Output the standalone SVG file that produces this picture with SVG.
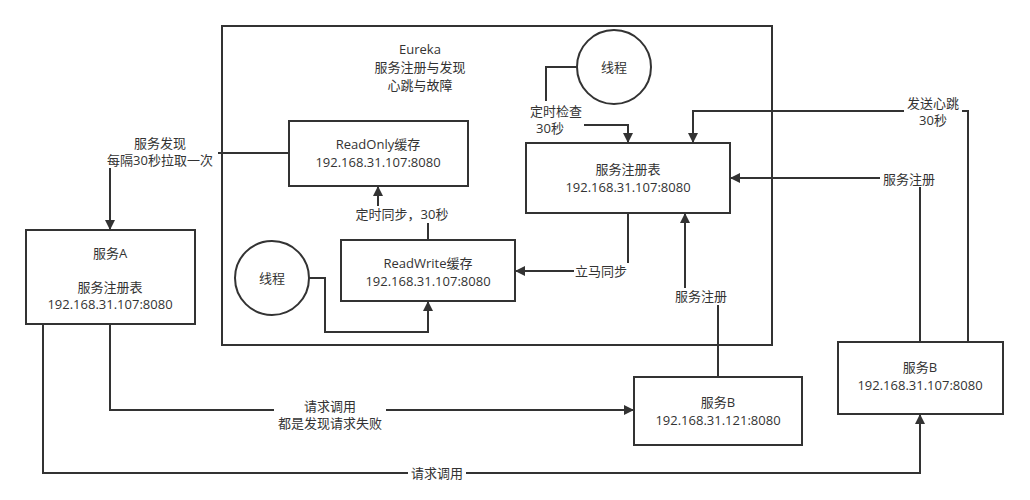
<svg xmlns="http://www.w3.org/2000/svg" width="1030" height="500" viewBox="0 0 1030 500">
<defs>
<marker id="ar" viewBox="0 0 10 10" refX="10" refY="5" markerWidth="10" markerHeight="10" markerUnits="userSpaceOnUse" orient="auto"><path d="M0,0 L10,5 L0,10 z" fill="#333"/></marker>
<style>
text{font-family:"Open Sans","Noto Sans CJK SC",sans-serif;font-size:13px;fill:#333;text-anchor:middle}
.b{fill:#fff;stroke:#333;stroke-width:2}
.c{fill:none;stroke:#333;stroke-width:2}
.lb{fill:#fff;stroke:none}
</style>
</defs>
<rect width="1030" height="500" fill="#fff"/>
<g id="eureka"><rect class="b" x="222" y="26" width="550" height="319"/>
<text x="420" y="54">Eureka</text><text x="420" y="72">服务注册与发现</text><text x="420" y="90">心跳与故障</text></g>
<g id="readonly"><rect class="b" x="289" y="121" width="179" height="65"/><text x="378" y="149">ReadOnly缓存</text><text x="378" y="167">192.168.31.107:8080</text></g>
<g id="readwrite"><rect class="b" x="341" y="240" width="174" height="61"/><text x="428" y="268">ReadWrite缓存</text><text x="428" y="286">192.168.31.107:8080</text></g>
<g id="registry"><rect class="b" x="526" y="143" width="204" height="70"/><text x="628" y="174">服务注册表</text><text x="628" y="192">192.168.31.107:8080</text></g>
<g id="thread1"><circle class="b" cx="614" cy="67" r="37"/><text x="614" y="72">线程</text></g>
<g id="thread2"><circle class="b" cx="272" cy="278" r="37"/><text x="272" y="283">线程</text></g>
<g id="serviceA"><rect class="b" x="26" y="230" width="169" height="94"/><text x="110" y="258">服务A</text><text x="110" y="292">服务注册表</text><text x="110" y="309">192.168.31.107:8080</text></g>
<g id="serviceB1"><rect class="b" x="634" y="377" width="168" height="68"/><text x="718" y="407">服务B</text><text x="718" y="425">192.168.31.121:8080</text></g>
<g id="serviceB2"><rect class="b" x="838" y="342" width="165" height="72"/><text x="920" y="372">服务B</text><text x="920" y="390">192.168.31.107:8080</text></g>
<g id="connectors">
<path class="c" d="M289,153 L110,153 L110,230" marker-end="url(#ar)"/>
<path class="c" d="M428,240 L428,215 L378,215 L378,186" marker-end="url(#ar)"/>
<path class="c" d="M309,278 L325,278 L325,332 L428,332 L428,301" marker-end="url(#ar)"/>
<path class="c" d="M577,67 L546,67 L546,125 L628,125 L628,143" marker-end="url(#ar)"/>
<path class="c" d="M628,213 L628,271 L515,271" marker-end="url(#ar)"/>
<path class="c" d="M718,377 L718,296 L685,296 L685,213" marker-end="url(#ar)"/>
<path class="c" d="M920,342 L920,178 L730,178" marker-end="url(#ar)"/>
<path class="c" d="M968,342 L968,111 L693,111 L693,143" marker-end="url(#ar)"/>
<path class="c" d="M110,324 L110,410 L634,410" marker-end="url(#ar)"/>
<path class="c" d="M43,324 L43,473 L920,473 L920,414" marker-end="url(#ar)"/>
<rect class="lb" x="92" y="134" width="126" height="34"/>
<text x="160" y="148">服务发现</text><text x="160" y="165">每隔30秒拉取一次</text>
<rect class="lb" x="352" y="206" width="100" height="17"/>
<text x="402" y="219">定时同步，30秒</text>
<rect class="lb" x="528" y="101" width="56" height="36"/>
<text x="556" y="116">定时检查</text><text x="550" y="133">30秒</text>
<rect class="lb" x="574" y="263" width="56" height="17"/>
<text x="601" y="276">立马同步</text>
<rect class="lb" x="672" y="288" width="58" height="17"/>
<text x="701" y="301">服务注册</text>
<rect class="lb" x="880" y="170" width="58" height="17"/>
<text x="909" y="184">服务注册</text>
<rect class="lb" x="904" y="94" width="58" height="34"/>
<text x="933" y="108">发送心跳</text><text x="933" y="125">30秒</text>
<rect class="lb" x="274" y="397" width="112" height="34"/>
<text x="330" y="411">请求调用</text><text x="330" y="428">都是发现请求失败</text>
<rect class="lb" x="408" y="465" width="58" height="17"/>
<text x="437" y="478">请求调用</text>
</g>
</svg>
